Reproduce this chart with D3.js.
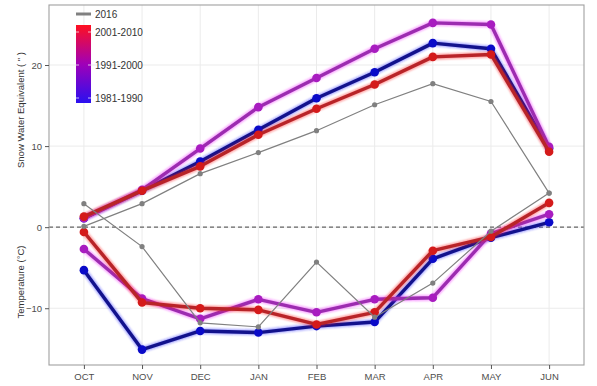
<!DOCTYPE html>
<meta charset="utf-8">
<script src="https://d3js.org/d3.v7.min.js"></script>
<style>
  body { margin: 0; background: #fff; }
  text { font-family: "Liberation Sans", Arial, sans-serif; }
</style>
<div id="chart"></div>
<script>
  // months of the snow season
  const months = ["OCT", "NOV", "DEC", "JAN", "FEB", "MAR", "APR", "MAY", "JUN"];

  // snow water equivalent (inches)
  const swe1981 = [1.1, 4.5, 8.1, 12.0, 15.9, 19.1, 22.7, 22.0, 9.7];
  const swe1991 = [1.1, 4.6, 9.7, 14.8, 18.4, 22.0, 25.2, 25.0, 9.9];
  const swe2001 = [1.3, 4.5, 7.5, 11.4, 14.6, 17.6, 21.0, 21.3, 9.3];
  const swe2016 = [0.1, 2.9, 6.6, 9.2, 11.9, 15.1, 17.7, 15.5, 4.2];

  // mean temperature (°C)
  const temp1981 = [-5.3, -15.1, -12.8, -13.0, -12.2, -11.7, -3.9, -1.3, 0.6];
  const temp1991 = [-2.7, -8.8, -11.3, -8.9, -10.5, -8.9, -8.7, -0.8, 1.6];
  const temp2001 = [-0.6, -9.3, -10.0, -10.2, -12.0, -10.5, -2.9, -1.2, 3.0];
  const temp2016 = [2.9, -2.4, -11.8, -12.3, -4.3, -11.1, -6.9, -0.5, 4.2];

  const yTicks = [-10, 0, 10, 20];
  const legendLabels = ["2001-2010", "1991-2000", "1981-1990"];

  const W = 597, H = 386;
  const margin = { top: 5, right: 13, bottom: 21, left: 49 };
  const width = W - margin.left - margin.right,
        height = H - margin.top - margin.bottom;

  const svg = d3.select("#chart").append("svg")
    .attr("width", W).attr("height", H);

  const defs = svg.append("defs");
  defs.append("filter").attr("id", "glow")
    .attr("x", "-10%").attr("y", "-10%").attr("width", "120%").attr("height", "120%")
    .append("feGaussianBlur").attr("stdDeviation", 1.2);

  const g = svg.append("g").attr("transform", `translate(${margin.left},${margin.top})`);

  const x = d3.scalePoint().domain(months).range([0, width]).padding(0.6);
  const y = d3.scaleLinear().domain([-17.0, 27.4]).range([height, 0]);

  // grid
  g.append("g").selectAll("line").data(yTicks).join("line")
    .attr("x1", 0).attr("x2", width)
    .attr("y1", d => y(d)).attr("y2", d => y(d))
    .attr("stroke", "#ebebeb").attr("stroke-width", 1);
  g.append("g").selectAll("line").data(months).join("line")
    .attr("x1", d => x(d)).attr("x2", d => x(d))
    .attr("y1", 0).attr("y2", height)
    .attr("stroke", "#ebebeb").attr("stroke-width", 1);

  // zero line
  g.append("line")
    .attr("x1", 0).attr("x2", width)
    .attr("y1", y(0)).attr("y2", y(0))
    .attr("stroke", "#666").attr("stroke-width", 1.1)
    .attr("stroke-dasharray", "4,3");

  const series = [
    { vals: swe1981, core: "#12128c", halo: "#2a2aff", dot: "#0a0ac8" },
    { vals: temp1981, core: "#12128c", halo: "#2a2aff", dot: "#0a0ac8" },
    { vals: swe1991, core: "#9c2cb0", halo: "#f020ff", dot: "#a81cc0" },
    { vals: temp1991, core: "#9c2cb0", halo: "#f020ff", dot: "#a81cc0" },
    { vals: swe2001, core: "#b82428", halo: "#ff1a1a", dot: "#d41a1a" },
    { vals: temp2001, core: "#b82428", halo: "#ff1a1a", dot: "#d41a1a" }
  ];

  const line = d3.line().x((d, i) => x(months[i])).y(d => y(d));

  series.forEach(s => {
    g.append("path").attr("d", line(s.vals))
      .attr("fill", "none").attr("stroke", s.halo).attr("stroke-width", 5.5)
      .attr("stroke-opacity", 0.45).attr("filter", "url(#glow)")
      .attr("stroke-linejoin", "round");
    g.append("path").attr("d", line(s.vals))
      .attr("fill", "none").attr("stroke", s.core).attr("stroke-width", 3.4)
      .attr("stroke-linejoin", "round");
    g.append("g").selectAll("circle").data(s.vals).join("circle")
      .attr("cx", (d, i) => x(months[i])).attr("cy", d => y(d))
      .attr("r", 4.3).attr("fill", s.dot);
  });

  // 2016
  [swe2016, temp2016].forEach(vals => {
    g.append("path").attr("d", line(vals))
      .attr("fill", "none").attr("stroke", "#808080").attr("stroke-width", 1.2);
    g.append("g").selectAll("circle").data(vals).join("circle")
      .attr("cx", (d, i) => x(months[i])).attr("cy", d => y(d))
      .attr("r", 2.6).attr("fill", "#808080");
  });

  // panel border
  g.append("rect").attr("width", width).attr("height", height)
    .attr("fill", "none").attr("stroke", "#a0a0a0").attr("stroke-width", 1.1);

  // axes
  const xAxis = g.append("g").attr("transform", `translate(0,${height})`)
    .call(d3.axisBottom(x).tickSize(4).tickPadding(4));
  const yAxis = g.append("g")
    .call(d3.axisLeft(y).tickValues(yTicks).tickSize(4).tickPadding(3));
  [xAxis, yAxis].forEach(a => {
    a.select(".domain").remove();
    a.selectAll(".tick line").attr("stroke", "#555");
    a.selectAll(".tick text").attr("fill", "#4d4d4d")
      .style("font-size", "9.5px").style("font-family", "'Liberation Sans', Arial, sans-serif");
  });

  // axis titles
  svg.append("text")
    .attr("transform", `translate(24,${110}) rotate(-90)`)
    .attr("text-anchor", "middle").attr("fill", "#333").style("font-size", "9.5px")
    .text('Snow Water Equivalent ( " )');
  svg.append("text")
    .attr("transform", `translate(24,${282}) rotate(-90)`)
    .attr("text-anchor", "middle").attr("fill", "#333").style("font-size", "9.5px")
    .text("Temperature (°C)");

  // legend
  const lg = svg.append("g");
  lg.append("line").attr("x1", 76).attr("x2", 91).attr("y1", 14).attr("y2", 14)
    .attr("stroke", "#808080").attr("stroke-width", 3);
  lg.append("text").attr("x", 95).attr("y", 17.5).attr("fill", "#333")
    .style("font-size", "10px").text("2016");

  const grad = defs.append("linearGradient").attr("id", "bar")
    .attr("x1", 0).attr("y1", 0).attr("x2", 0).attr("y2", 1);
  [["0%", "#ff1020"], ["50%", "#a000b8"], ["100%", "#2a10f0"]].forEach(([o, c]) =>
    grad.append("stop").attr("offset", o).attr("stop-color", c));
  lg.append("rect").attr("x", 76).attr("y", 25).attr("width", 15).attr("height", 78)
    .attr("fill", "url(#bar)");

  const barY = d3.scalePoint().domain(legendLabels).range([32, 98]);
  legendLabels.forEach(l => {
    lg.append("line").attr("x1", 76).attr("x2", 79).attr("y1", barY(l)).attr("y2", barY(l))
      .attr("stroke", "#fff").attr("stroke-opacity", 0.7);
    lg.append("line").attr("x1", 88).attr("x2", 91).attr("y1", barY(l)).attr("y2", barY(l))
      .attr("stroke", "#fff").attr("stroke-opacity", 0.7);
    lg.append("text").attr("x", 95).attr("y", barY(l) + 3.5).attr("fill", "#333")
      .style("font-size", "10px").text(l);
  });
</script>
